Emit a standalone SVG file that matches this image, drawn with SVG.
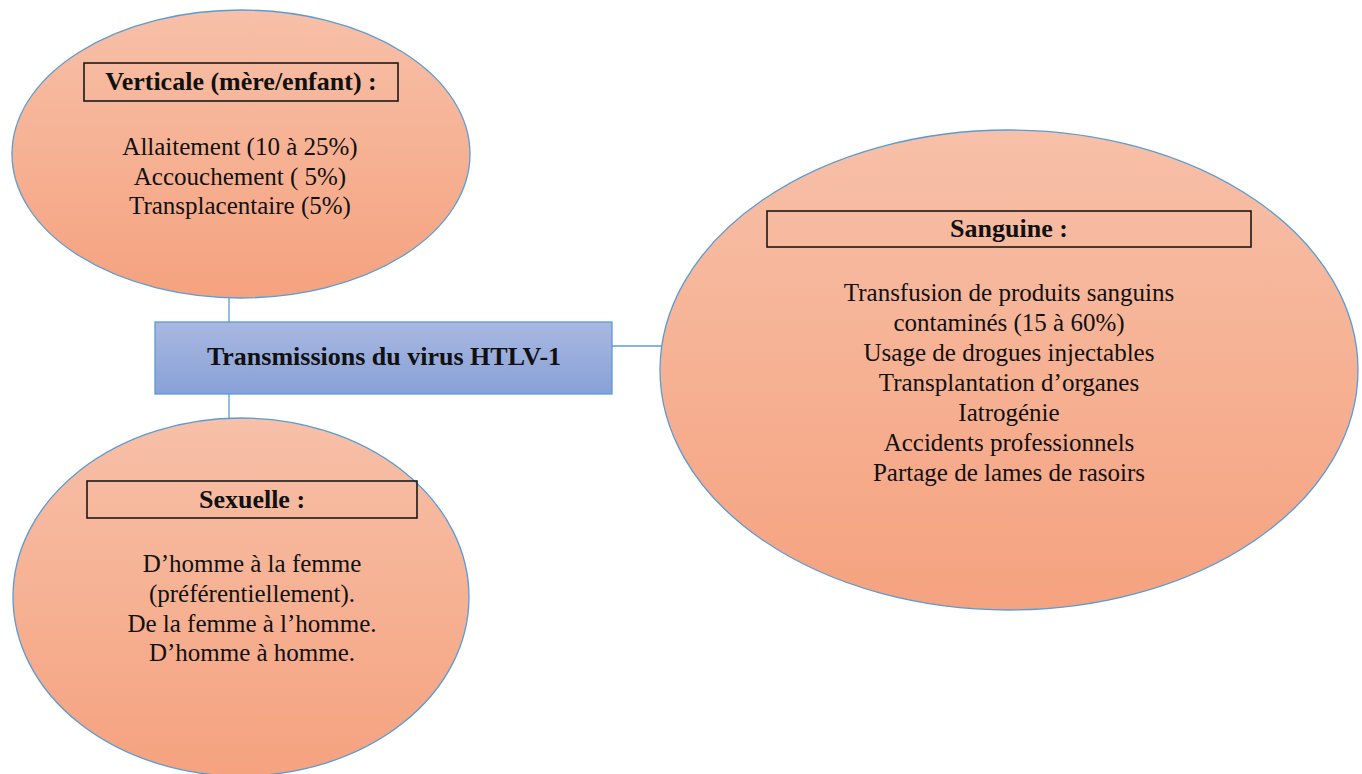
<svg xmlns="http://www.w3.org/2000/svg" width="1362" height="774" viewBox="0 0 1362 774">
<defs>
<linearGradient id="gOrange" x1="0" y1="0" x2="0" y2="1">
<stop offset="0" stop-color="#f7c0a8"/>
<stop offset="1" stop-color="#f5a27f"/>
</linearGradient>
<linearGradient id="gBlue" x1="0" y1="0" x2="0" y2="1">
<stop offset="0" stop-color="#a9b8e1"/>
<stop offset="1" stop-color="#88a1d7"/>
</linearGradient>
<style>
.ell{fill:url(#gOrange);stroke:#5b9bd5;stroke-width:1.3}
.hbox{fill:none;stroke:#1a1a1a;stroke-width:1.6}
.conn{stroke:#5b9bd5;stroke-width:1.3;fill:none}
.t{font-family:"Liberation Serif","Times New Roman",serif;font-size:25px;fill:#111;text-anchor:middle}
.b{font-family:"Liberation Serif","Times New Roman",serif;font-size:26px;font-weight:bold;fill:#111;text-anchor:middle}
</style>
</defs>
<rect width="1362" height="774" fill="#ffffff"/>
<g id="connectors">
<line class="conn" x1="229" y1="298" x2="229" y2="322"/>
<line class="conn" x1="229" y1="394" x2="229" y2="419"/>
<line class="conn" x1="612" y1="346" x2="661" y2="346"/>
</g>
<g id="node-verticale">
<ellipse class="ell" cx="241" cy="154" rx="229" ry="144"/>
<rect class="hbox" x="84" y="63" width="314" height="38"/>
<text class="b" x="241" y="90">Verticale (mère/enfant) :</text>
<text class="t" x="240" y="155">Allaitement (10 à 25%)</text>
<text class="t" x="240" y="185">Accouchement ( 5%)</text>
<text class="t" x="240" y="214">Transplacentaire (5%)</text>
</g>
<g id="node-center">
<rect x="155" y="322" width="457" height="72" fill="url(#gBlue)" stroke="#5b9bd5" stroke-width="1.3"/>
<text class="b" x="384" y="365">Transmissions du virus HTLV-1</text>
</g>
<g id="node-sexuelle">
<ellipse class="ell" cx="241" cy="597" rx="228" ry="179"/>
<rect class="hbox" x="87" y="481" width="330" height="37"/>
<text class="b" x="252" y="508">Sexuelle :</text>
<text class="t" x="252" y="572">D’homme à la femme</text>
<text class="t" x="252" y="602">(préférentiellement).</text>
<text class="t" x="252" y="632">De la femme à l’homme.</text>
<text class="t" x="252" y="661">D’homme à homme.</text>
</g>
<g id="node-sanguine">
<ellipse class="ell" cx="1009" cy="370" rx="349" ry="240"/>
<rect class="hbox" x="767" y="211" width="484" height="36"/>
<text class="b" x="1009" y="237">Sanguine :</text>
<text class="t" x="1009" y="301">Transfusion de produits sanguins</text>
<text class="t" x="1009" y="331">contaminés (15 à 60%)</text>
<text class="t" x="1009" y="361">Usage de drogues injectables</text>
<text class="t" x="1009" y="391">Transplantation d’organes</text>
<text class="t" x="1009" y="421">Iatrogénie</text>
<text class="t" x="1009" y="451">Accidents professionnels</text>
<text class="t" x="1009" y="481">Partage de lames de rasoirs</text>
</g>
</svg>
